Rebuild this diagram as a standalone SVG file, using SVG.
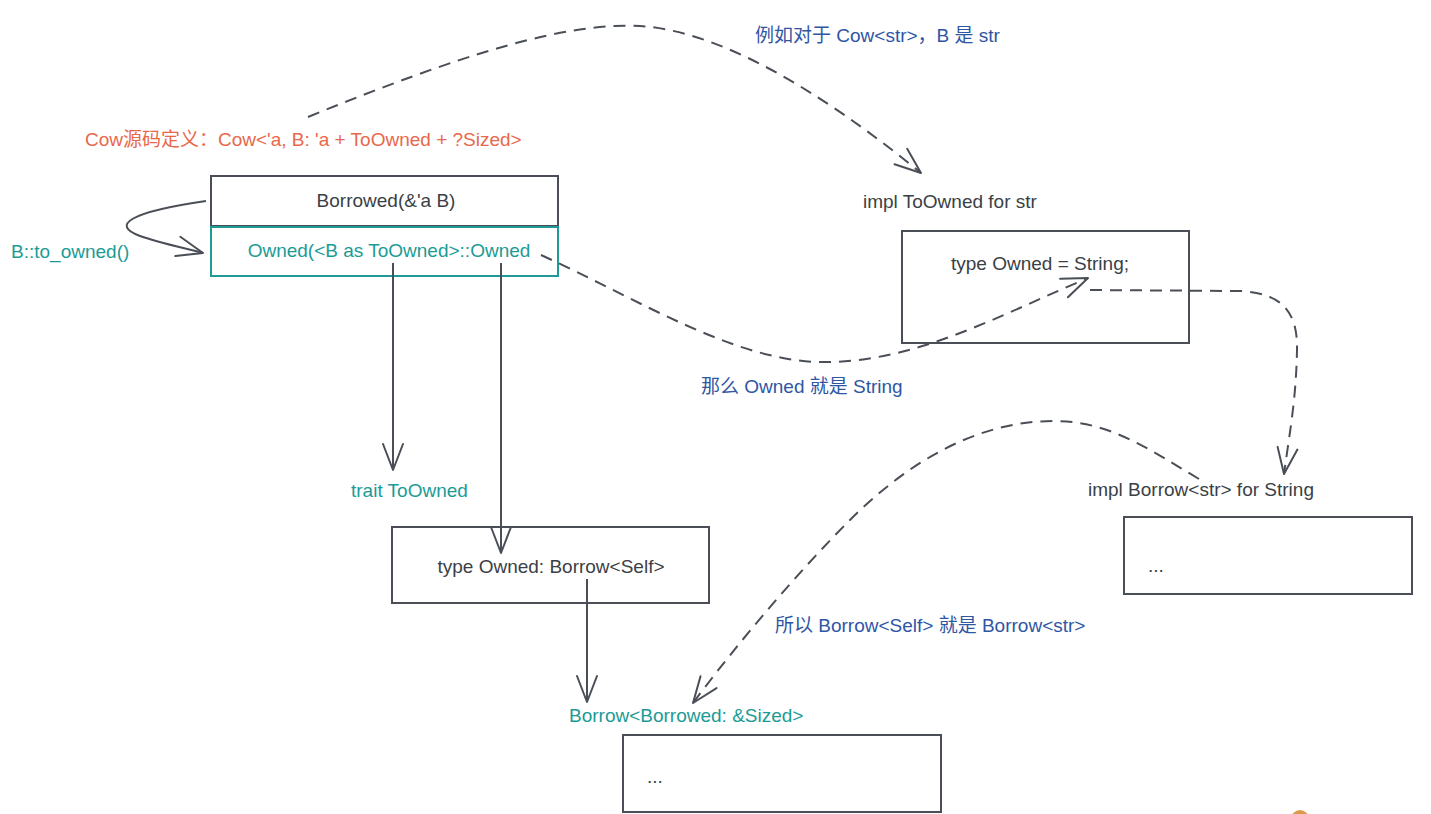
<svg xmlns="http://www.w3.org/2000/svg" width="1431" height="814" viewBox="0 0 1431 814">
<defs>
<style>
text{font-family:"Liberation Sans","Noto Sans CJK SC",sans-serif;font-size:19px}
.dk{fill:#3b3f46}
.tl{fill:#1b9b95}
.bl{fill:#2f56a4}
.or{fill:#e8684b}
.box{fill:#fff;stroke:#4a4f57;stroke-width:2}
.tbox{fill:#fff;stroke:#1f9a96;stroke-width:2}
.ln{fill:none;stroke:#4a4f57;stroke-width:2;marker-end:url(#arr)}
.dash{stroke-dasharray:12 8}
</style>
<marker id="arr" markerUnits="userSpaceOnUse" viewBox="-30 -15 40 30" markerWidth="40" markerHeight="30" refX="0" refY="0" orient="auto" overflow="visible">
<path d="M-26,-10 L0,0 L-26,10" fill="none" stroke="#4a4f57" stroke-width="2" stroke-linecap="round" stroke-linejoin="round"/>
</marker>
</defs>
<rect width="1431" height="814" fill="#fff"/>

<g id="title"><text class="or" x="85" y="146">Cow源码定义：Cow&lt;'a, B: 'a + ToOwned + ?Sized&gt;</text></g>

<g id="borrowed">
<rect class="box" x="211" y="176" width="347" height="50"/>
<text class="dk" x="386" y="207" text-anchor="middle">Borrowed(&amp;'a B)</text>
</g>
<g id="owned">
<rect class="tbox" x="211" y="227" width="347" height="49"/>
<text class="tl" x="389" y="257" text-anchor="middle">Owned(&lt;B as ToOwned&gt;::Owned</text>
</g>
<g id="to-owned-label"><text class="tl" x="11" y="258">B::to_owned()</text></g>
<g id="trait-toowned"><text class="tl" x="351" y="497">trait ToOwned</text></g>
<g id="type-owned-borrow">
<rect class="box" x="392" y="527" width="317" height="76"/>
<text class="dk" x="551" y="573" text-anchor="middle">type Owned: Borrow&lt;Self&gt;</text>
</g>
<g id="borrow-trait">
<text class="tl" x="569" y="722">Borrow&lt;Borrowed: &amp;Sized&gt;</text>
<rect class="box" x="623" y="735" width="318" height="77"/>
<text class="dk" x="647" y="783">...</text>
</g>
<g id="impl-toowned">
<text class="dk" x="863" y="208">impl ToOwned for str</text>
<rect class="box" x="902" y="231" width="287" height="112"/>
<text class="dk" x="1040" y="270" text-anchor="middle">type Owned = String;</text>
</g>
<g id="impl-borrow">
<text class="dk" x="1088" y="496">impl Borrow&lt;str&gt; for String</text>
<rect class="box" x="1124" y="517" width="288" height="77"/>
<text class="dk" x="1148" y="572">...</text>
</g>
<g id="notes">
<text class="bl" x="755" y="42">例如对于 Cow&lt;str&gt;，B 是 str</text>
<text class="bl" x="701" y="393">那么 Owned 就是 String</text>
<text class="bl" x="775" y="632">所以 Borrow&lt;Self&gt; 就是 Borrow&lt;str&gt;</text>
</g>

<g id="connectors">
<path class="ln" d="M206,201 C130,212 110,225 140,236 C160,243 180,247 203,253"/>
<path class="ln" d="M393,263 L393,470"/>
<path class="ln" d="M501,263 L501,553"/>
<path class="ln" d="M587,579 L587,702"/>
<path class="ln dash" d="M308,117 C460,55 565,22 640,26 C735,32 850,115 921,173"/>
<path class="ln dash" d="M541,255 C640,300 740,365 830,362 C920,360 1000,315 1088,278"/>
<path class="ln dash" d="M1090,290 L1240,291 C1280,293 1298,310 1297,350 C1296,400 1290,430 1284,474"/>
<path class="ln dash" d="M1199,479 C1150,450 1110,421 1054,421 C970,421 900,470 850,520 C800,570 740,640 693,703"/>
</g>
<circle cx="1300" cy="819" r="9" fill="#dc9a4c"/>
</svg>
